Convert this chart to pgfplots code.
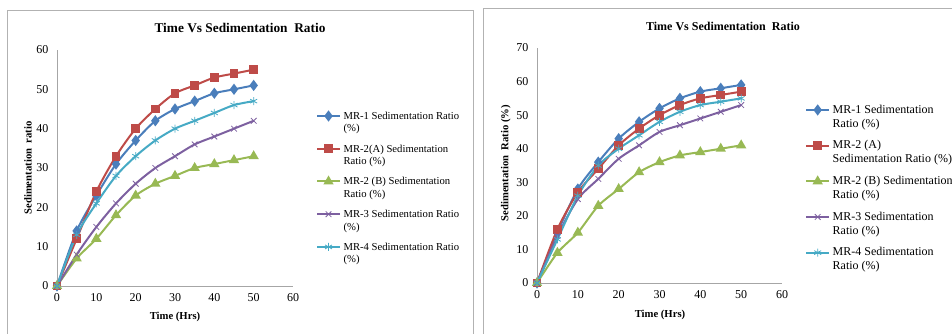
\documentclass[border=0pt]{standalone}
\usepackage{pgfplots}
\pgfplotsset{compat=1.18}
\usepackage{fontspec}
\setmainfont{Liberation Serif}
\definecolor{cA}{RGB}{74,126,187}
\definecolor{cB}{RGB}{190,75,72}
\definecolor{cC}{RGB}{152,185,84}
\definecolor{cD}{RGB}{125,96,160}
\definecolor{cE}{RGB}{70,170,197}
\pgfplotsset{
  mystyle/.style={
    scale only axis, clip=false,
    axis lines=left, axis line style={draw=gray!70, -, line width=0.6pt},
    xmin=0, xmax=60, xtick={0,10,...,60},
    major tick length=0pt,
    tick label style={font=\fontsize{9}{10}\selectfont},
    yticklabel style={xshift=-3pt},
    xticklabel style={yshift=-2pt},
    /pgf/number format/assume math mode=true,
    label style={font=\fontsize{8}{9}\selectfont\bfseries},
    legend cell align=left,
    legend style={draw=none, fill=none, inner sep=0pt, font=\fontsize{8}{9.5}\selectfont,
      cells={align=left, anchor=base west}, anchor=north west, row sep=4pt},
    every axis plot/.append style={line width=1.5pt, smooth, tension=0.45},
  },
  sA/.style={color=cA, mark=diamond*, mark size=3pt},
  sB/.style={color=cB, mark=square*, mark size=2.6pt},
  sC/.style={color=cC, mark=triangle*, mark size=3pt},
  sD/.style={color=cD, mark=x, mark size=3pt, mark options={line width=0.6pt}},
  sE/.style={color=cE, mark=asterisk, mark size=3pt, mark options={line width=0.6pt}},
}
\begin{document}
\begin{tikzpicture}
\useasboundingbox (0pt,0pt) rectangle (714pt,250.5pt);
\draw[gray!60, line width=0.6pt] (5.25pt,-5pt) rectangle (354.75pt,243pt);
\draw[gray!60, line width=0.6pt] (362.25pt,-5pt) rectangle (730pt,244.5pt);
\node[font=\fontsize{10}{12}\selectfont\bfseries] at (180pt,229.5pt) {Time Vs Sedimentation\ \ Ratio};
\node[font=\fontsize{9}{11}\selectfont\bfseries] at (542.25pt,231pt) {Time Vs Sedimentation\ \ Ratio};

\begin{axis}[mystyle, at={(42.75pt,36pt)}, anchor=origin, width=177pt, height=177pt,
  ymin=0, ymax=60, ytick={0,10,...,60},
  xlabel={Time (Hrs)}, ylabel={Sedimentation\ \ ratio},
  xlabel style={at={(axis description cs:0.5,-0.131)}, anchor=center},
  ylabel style={at={(axis description cs:-0.123,0.5)}, anchor=center},
  legend style={at={(axis description cs:1.097,0.75)}},
  legend image post style={yshift=12pt},
]
\addplot[sA] coordinates {(0,0)(5,14)(10,23)(15,31)(20,37)(25,42)(30,45)(35,47)(40,49)(45,50)(50,51)};
\addplot[sB] coordinates {(0,0)(5,12)(10,24)(15,33)(20,40)(25,45)(30,49)(35,51)(40,53)(45,54)(50,55)};
\addplot[sC] coordinates {(0,0)(5,7)(10,12)(15,18)(20,23)(25,26)(30,28)(35,30)(40,31)(45,32)(50,33)};
\addplot[sD] coordinates {(0,0)(5,8)(10,15)(15,21)(20,26)(25,30)(30,33)(35,36)(40,38)(45,40)(50,42)};
\addplot[sE] coordinates {(0,0)(5,13)(10,21)(15,28)(20,33)(25,37)(30,40)(35,42)(40,44)(45,46)(50,47)};
\legend{MR-1 Sedimentation Ratio\\(\%), MR-2(A) Sedimentation\\Ratio (\%), MR-2 (B) Sedimentation\\Ratio (\%), MR-3 Sedimentation Ratio\\(\%), MR-4 Sedimentation Ratio\\(\%)}
\end{axis}

\begin{axis}[mystyle, at={(402.75pt,38.25pt)}, anchor=origin, width=183.75pt, height=176.25pt,
  ymin=0, ymax=70, ytick={0,10,...,70},
  xlabel={Time (Hrs)}, ylabel={Sedimentation\ \ Ratio (\%)},
  xlabel style={at={(axis description cs:0.502,-0.136)}, anchor=center},
  ylabel style={at={(axis description cs:-0.127,0.51)}, anchor=center},
  legend style={at={(axis description cs:1.094,0.77)}, row sep=4.5pt, font=\fontsize{9}{10.5}\selectfont},
  legend image post style={yshift=13pt},
]
\addplot[sA] coordinates {(0,0)(5,15)(10,28)(15,36)(20,43)(25,48)(30,52)(35,55)(40,57)(45,58)(50,59)};
\addplot[sB] coordinates {(0,0)(5,16)(10,27)(15,34)(20,41)(25,46)(30,50)(35,53)(40,55)(45,56)(50,57)};
\addplot[sC] coordinates {(0,0)(5,9)(10,15)(15,23)(20,28)(25,33)(30,36)(35,38)(40,39)(45,40)(50,41)};
\addplot[sD] coordinates {(0,0)(5,14)(10,25)(15,31)(20,37)(25,41)(30,45)(35,47)(40,49)(45,51)(50,53)};
\addplot[sE] coordinates {(0,0)(5,13)(10,26)(15,35)(20,40)(25,44)(30,48)(35,51)(40,53)(45,54)(50,55)};
\legend{MR-1 Sedimentation\\Ratio (\%), MR-2 (A)\\Sedimentation Ratio (\%), MR-2 (B) Sedimentation\\Ratio (\%), MR-3 Sedimentation\\Ratio (\%), MR-4 Sedimentation\\Ratio (\%)}
\end{axis}
\end{tikzpicture}
\end{document}
